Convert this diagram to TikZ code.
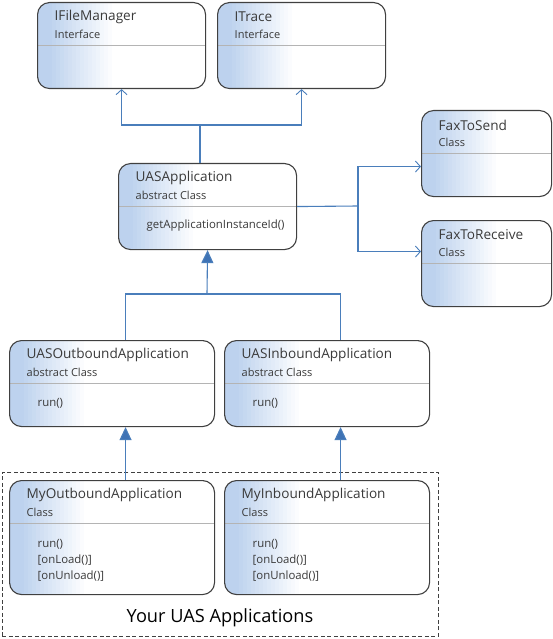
\documentclass[tikz,border=0pt]{standalone}
\usepackage{fontspec}
\setmainfont{Open Sans}
\usetikzlibrary{arrows.meta,calc}
\definecolor{gradblue}{HTML}{BDD2EE}
\definecolor{boxline}{HTML}{404040}
\definecolor{sepline}{HTML}{B4B4B4}
\definecolor{txt}{HTML}{3A3A3A}
\definecolor{conn}{HTML}{4A7EBB}
\definecolor{genfill}{HTML}{3F73B5}
\tikzset{
  umlbox/.style={draw=boxline, line width=1.1pt, rounded corners=12pt, fill=white,
    inner sep=0pt, anchor=north west, minimum width=#1,
    path picture={
      \fill[gradblue, sharp corners] (path picture bounding box.south west) rectangle ([xshift=14pt]path picture bounding box.north west);
      \foreach \i in {0,...,15}{
        \pgfmathsetmacro{\pct}{100-6.25*(\i+1)}
        \fill[gradblue!\pct!white, sharp corners] ([xshift=14pt+4*\i pt]path picture bounding box.south west) rectangle ([xshift=14pt+4*\i pt+4.3pt]path picture bounding box.north west);
      }
      \draw[sepline, line width=0.9pt, sharp corners] ([yshift=-43pt]path picture bounding box.north west) -- ([yshift=-43pt]path picture bounding box.north east);
    }},
  titletxt/.style={anchor=west, inner sep=0pt, text=txt, font=\fontsize{13.6}{16}\selectfont},
  subtxt/.style={anchor=west, inner sep=0pt, text=txt, font=\fontsize{11}{13}\selectfont},
  methtxt/.style={anchor=west, inner sep=0pt, text=txt, font=\fontsize{11.4}{13}\selectfont},
  assoc/.style={draw=conn, line width=1.1pt, -{Straight Barb[length=5pt,width=11pt,line width=0.9pt]}},
  plainline/.style={draw=conn, line width=1.1pt},
  gen/.style={draw=conn, line width=1.1pt, -{Triangle[length=13pt,width=12pt,fill=genfill]}},
  groupbox/.style={draw=boxline, dash pattern=on 4pt off 2.5pt, line width=0.8pt, inner sep=0pt, anchor=north west},
  grouptxt/.style={inner sep=0pt, text=black, font=\fontsize{18.2}{22}\selectfont}
}
\begin{document}
\begin{tikzpicture}[x=1pt,y=-1pt]
\useasboundingbox (0,0) rectangle (553,639);
% group
\node[groupbox, minimum width=436pt, minimum height=164pt] (grp) at (2,472) {};
\node[grouptxt] (grplbl) at (220,618) {Your UAS Applications};
% boxes
\node[umlbox=168pt, minimum height=86pt] (ifm) at (37,2) {};
\node[umlbox=168pt, minimum height=86pt] (itr) at (217,2) {};
\node[umlbox=178pt, minimum height=86pt] (uas) at (118,163) {};
\node[umlbox=130pt, minimum height=86pt] (fts) at (421,110) {};
\node[umlbox=130pt, minimum height=86pt] (ftr) at (421,220) {};
\node[umlbox=205pt, minimum height=86pt] (uasout) at (9,340) {};
\node[umlbox=205pt, minimum height=86pt] (uasin) at (224,340) {};
\node[umlbox=205pt, minimum height=114pt] (myout) at (9,480) {};
\node[umlbox=205pt, minimum height=114pt] (myin) at (224,480) {};
% texts
\foreach \b/\t/\s in {ifm/IFileManager/Interface, itr/ITrace/Interface,
  uas/UASApplication/abstract Class, fts/FaxToSend/Class, ftr/FaxToReceive/Class,
  uasout/UASOutboundApplication/abstract Class, uasin/UASInboundApplication/abstract Class,
  myout/MyOutboundApplication/Class, myin/MyInboundApplication/Class}{
  \node[titletxt] (\b-title) at ($(\b.north west)+(17.5,15)$) {\t};
  \node[subtxt] (\b-stereo) at ($(\b.north west)+(17.5,32)$) {\s};
}
\node[methtxt] (uas-m1) at ($(uas.north west)+(28.5,63)$) {getApplicationInstanceId()};
\node[methtxt] (uasout-m1) at ($(uasout.north west)+(28.5,63)$) {run()};
\node[methtxt] (uasin-m1) at ($(uasin.north west)+(28.5,63)$) {run()};
\foreach \b in {myout,myin}{
  \node[methtxt] (\b-m1) at ($(\b.north west)+(28.5,64)$) {run()};
  \node[methtxt] (\b-m2) at ($(\b.north west)+(28.5,80)$) {[onLoad()]};
  \node[methtxt] (\b-m3) at ($(\b.north west)+(28.5,96)$) {[onUnload()]};
}
% connectors
\coordinate (j1) at (200,125);
\draw[plainline] (j1 |- uas.north) -- (j1);
\draw[assoc] (j1) -| (ifm.south);
\draw[assoc] (j1) -| (itr.south);
\coordinate (j2) at (358,206);
\draw[plainline] (uas.east) -- (j2);
\draw[assoc] (j2) |- ([yshift=-13pt]fts.west);
\draw[assoc] (j2) |- ([yshift=12pt]ftr.west);
\coordinate (g) at (207,294);
\draw[gen] (g) -- (uas.south);
\draw[plainline] ([xshift=13.5pt]uasout.north) |- (g) -| ([xshift=13.5pt]uasin.north);
\draw[gen] ([xshift=13.5pt]myout.north) -- ([xshift=13.5pt]uasout.south);
\draw[gen] ([xshift=13.5pt]myin.north) -- ([xshift=13.5pt]uasin.south);
\end{tikzpicture}
\end{document}
